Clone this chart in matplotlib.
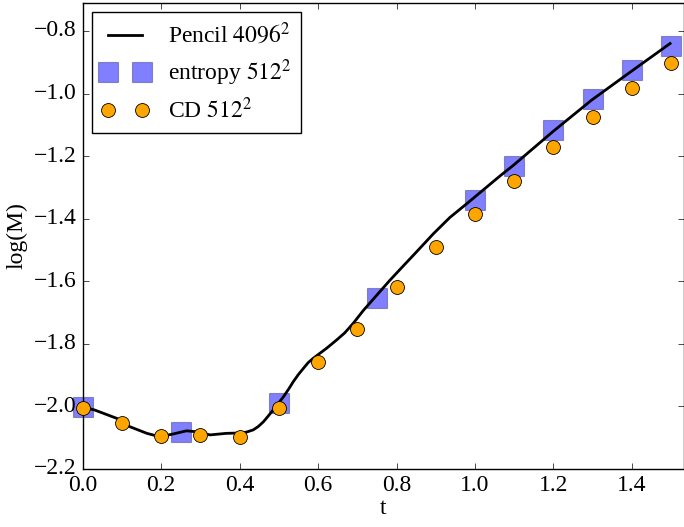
import matplotlib
matplotlib.use('Agg')
import matplotlib.pyplot as plt
import numpy as np

plt.style.use('classic')
plt.rcParams['font.family'] = ['Liberation Serif', 'DejaVu Serif']
plt.rcParams['mathtext.fontset'] = 'stix'
plt.rcParams['figure.facecolor'] = 'white'

# Pencil 4096^2 curve (traced)
t_pencil = [0.0, 0.03, 0.087, 0.121, 0.164, 0.197, 0.231, 0.265, 0.291, 0.325,
            0.367, 0.401, 0.418, 0.435, 0.448, 0.461, 0.473, 0.486, 0.499,
            0.512, 0.525, 0.537, 0.550, 0.563, 0.575, 0.588, 0.605, 0.622,
            0.648, 0.668, 0.690, 0.715, 0.750, 0.783, 0.809, 0.851, 0.894,
            0.936, 0.979, 1.021, 1.064, 1.099, 1.198, 1.297, 1.397, 1.497]
m_pencil = [-2.002, -2.011, -2.038, -2.065, -2.086, -2.097, -2.088, -2.078,
            -2.081, -2.091, -2.086, -2.085, -2.082, -2.075, -2.064, -2.049,
            -2.031, -2.011, -1.990, -1.969, -1.945, -1.921, -1.898, -1.878,
            -1.860, -1.846, -1.830, -1.814, -1.787, -1.765, -1.734, -1.694,
            -1.644, -1.597, -1.562, -1.506, -1.448, -1.396, -1.352, -1.308,
            -1.263, -1.228, -1.122, -1.021, -0.930, -0.840]

# entropy 512^2
t_entropy = [0.0, 0.25, 0.5, 0.75, 1.0, 1.1, 1.2, 1.3, 1.4, 1.5]
m_entropy = [-2.003, -2.081, -1.990, -1.654, -1.340, -1.231, -1.117, -1.018,
             -0.926, -0.848]

# CD 512^2
t_cd = [0.0, 0.1, 0.2, 0.3, 0.4, 0.5, 0.6, 0.7, 0.8, 0.9, 1.0, 1.1, 1.2, 1.3,
        1.4, 1.5]
m_cd = [-2.005, -2.054, -2.095, -2.091, -2.099, -2.004, -1.857, -1.754,
        -1.617, -1.491, -1.386, -1.280, -1.170, -1.075, -0.983, -0.902]

fig = plt.figure(figsize=(6.84, 5.27), dpi=100)
ax = fig.add_axes([82.5/684, 58/527, 1 - 82.5/684, (527-58-3)/527])

ax.plot(t_pencil, m_pencil, '-', color='black', lw=2, label=r'Pencil $4096^2$', zorder=3)
ax.plot(t_entropy, m_entropy, 's', color='blue', alpha=0.5, ms=15, mec='#404080',
        mew=0.8, label=r'entropy $512^2$', zorder=2, clip_on=False)
ax.plot(t_cd, m_cd, 'o', color='orange', ms=10, mec='black', mew=0.6,
        label=r'CD $512^2$', zorder=4, clip_on=False)

ax.set_xlim(0, (684 - 82.5)/392.5)
ax.set_ylim(-2.2, -0.8 + 28/312.9)
ax.set_xticks([0.0, 0.2, 0.4, 0.6, 0.8, 1.0, 1.2, 1.4])
ax.set_yticks([-2.2, -2.0, -1.8, -1.6, -1.4, -1.2, -1.0, -0.8])
ax.tick_params(labelsize=17)
ax.set_xlabel('t', fontsize=17, labelpad=2)
ax.set_ylabel('log(M)', fontsize=17)

leg = ax.legend(loc='upper left', numpoints=2, fontsize=17, frameon=True,
                fancybox=False, borderaxespad=0.4, labelspacing=0.4)
leg.get_frame().set_edgecolor('black')

fig.savefig('out.png', dpi=100, facecolor='white')
